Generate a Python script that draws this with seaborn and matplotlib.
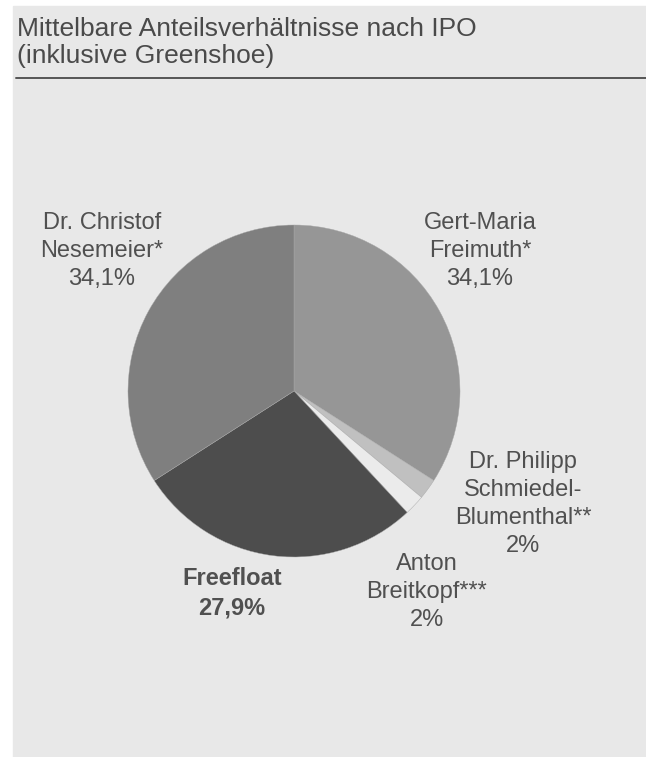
import matplotlib
matplotlib.use("Agg")
import matplotlib.pyplot as plt
import seaborn as sns
from matplotlib.patches import Rectangle
from matplotlib.lines import Line2D

# ─── DATEN ────────────────────────────────────────────────────────────────────
namen = ["Gert-Maria\nFreimuth*", "Dr. Philipp\nSchmiedel-\nBlumenthal**",
         "Anton\nBreitkopf***", "Freefloat", "Dr. Christof\nNesemeier*"]
anteile = [34.1, 2.0, 2.0, 27.9, 34.1]
anteil_texte = ["34,1%", "2%", "2%", "27,9%", "34,1%"]
farben = ["#969696", "#c0c0c0", "#ebebeb", "#4d4d4d", "#7f7f7f"]

titel = "Mittelbare Anteilsverhältnisse nach IPO\n(inklusive Greenshoe)"

# ─── LAYOUT (Pixel) ──────────────────────────────────────────────────────────
W, H = 646, 757
cx, cy, r = 294, 391, 166
label_pos = [(480, 251), (523, 504), (427, 592), (232, 593), (102, 251)]

sns.set_theme(style="white")
plt.rcParams['font.family'] = ['Liberation Sans', 'DejaVu Sans']
textfarbe = "#505050"

fig = plt.figure(figsize=(W / 100, H / 100), dpi=100, facecolor="white")

# Hintergrundpanel
fig.patches.append(Rectangle((13 / W, 0), 1 - 13 / W, 1 - 6 / H,
                             transform=fig.transFigure, color="#e8e8e8", zorder=-10))
fig.lines.append(Line2D([16 / W, 1], [1 - 78 / H, 1 - 78 / H],
                        transform=fig.transFigure, color="#555555", lw=1.4))

fig.text(17 / W, 1 - 17 / H, titel, ha="left", va="top", fontsize=19,
         color="#4a4a4a", linespacing=1.15)

ax = fig.add_axes([(cx - r) / W, (H - cy - r) / H, 2 * r / W, 2 * r / H])
ax.patch.set_visible(False)
ax.pie(anteile, colors=farben, startangle=90, counterclock=False, radius=1,
       wedgeprops=dict(edgecolor="#a8a8a8", linewidth=0.3))
ax.set_xlim(-1, 1)
ax.set_ylim(-1, 1)
ax.axis("off")

for name, wert, (x, y) in zip(namen, anteil_texte, label_pos):
    fett = name == "Freefloat"
    fig.text(x / W, 1 - y / H, f"{name}\n{wert}", ha="center", va="center",
             fontsize=17, color=textfarbe, linespacing=1.35,
             fontweight="bold" if fett else "normal")

fig.savefig("out.png", dpi=100, facecolor="white")
